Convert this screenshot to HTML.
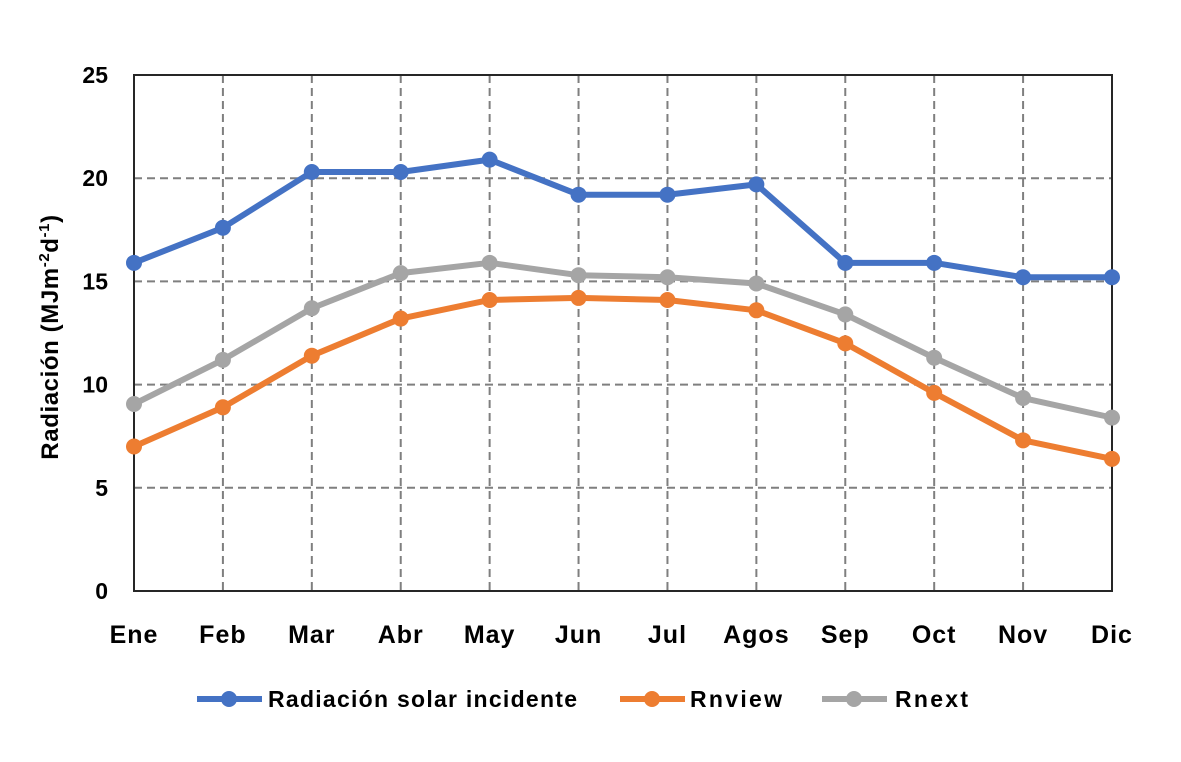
<!DOCTYPE html>
<html><head><meta charset="utf-8"><style>
body{margin:0;background:#fff;}
svg text{font-family:"Liberation Sans",Arial,sans-serif;font-weight:bold;fill:#000;}
</style></head><body>
<svg id="chart" width="1181" height="757" xmlns="http://www.w3.org/2000/svg">
<g id="grid"></g>
<g id="axes"></g>
<g id="series"></g>
<text transform="translate(58,337) rotate(-90)" text-anchor="middle" font-size="24" letter-spacing="0.6">Radiación (MJm<tspan font-size="15" dy="-9">-2</tspan><tspan dy="9">d</tspan><tspan font-size="15" dy="-9">-1</tspan><tspan dy="9">)</tspan></text>
<g id="legend"></g>
</svg>
<script>
const categories=["Ene","Feb","Mar","Abr","May","Jun","Jul","Agos","Sep","Oct","Nov","Dic"];
const radiacion=[15.9,17.6,20.3,20.3,20.9,19.2,19.2,19.7,15.9,15.9,15.2,15.2];
const rnview=[7.0,8.9,11.4,13.2,14.1,14.2,14.1,13.6,12.0,9.6,7.3,6.4];
const rnext=[9.06,11.2,13.7,15.4,15.9,15.3,15.2,14.9,13.4,11.3,9.35,8.4];
const yTicks=[0,5,10,15,20,25];
const seriesNames=["Radiación solar incidente","Rnview","Rnext"];
const NS="http://www.w3.org/2000/svg";
const L=134,R=1112,T=75,B=591,YMAX=25;
const x=i=>L+i*(R-L)/(categories.length-1);
const y=v=>B-v*(B-T)/YMAX;
function mk(tag,attrs,parent){const e=document.createElementNS(NS,tag);for(const k in attrs)e.setAttribute(k,attrs[k]);parent.appendChild(e);return e;}
const grid=document.getElementById('grid'),axes=document.getElementById('axes'),ser=document.getElementById('series'),leg=document.getElementById('legend');
yTicks.forEach(t=>{
 if(t>0){const l=mk('line',{x1:L,x2:R,y1:y(t),y2:y(t),stroke:'#7f7f7f','stroke-width':2,'stroke-dasharray':'8,5'},grid);
 
 }
 const tx=mk('text',{x:L-26,y:y(t)+8,'text-anchor':'end','font-size':23},axes);tx.textContent=t;
 
 
});
categories.forEach((c,i)=>{
 if(i>0&&i<categories.length-1){const l=mk('line',{x1:x(i),x2:x(i),y1:T,y2:B,stroke:'#7f7f7f','stroke-width':2,'stroke-dasharray':'8,5'},grid);
 
 }
 const tx=mk('text',{x:x(i),y:643,'text-anchor':'middle','font-size':25,'letter-spacing':1},axes);tx.textContent=c;
 
 
});
const box=mk('rect',{x:L,y:T,width:R-L,height:B-T,fill:'none',stroke:'#262626','stroke-width':2},axes);


const data=[radiacion,rnview,rnext],colors=["#4472c4","#ed7d31","#a5a5a5"];
[2,1,0].forEach(s=>{
 const g=mk('g',{},ser);
 
 
 const p=mk('polyline',{points:data[s].map((v,i)=>x(i)+','+y(v)).join(' '),fill:'none',stroke:colors[s],'stroke-width':6,'stroke-linejoin':'round'},g);
 
 
 data[s].forEach((v,i)=>{const c=mk('circle',{cx:x(i),cy:y(v),r:8,fill:colors[s]},g);
 
 });
});
const lx=[197,620,822],tx=[268,690,895],tl=[309,92,73];
seriesNames.forEach((n,s)=>{
 const g=mk('g',{},leg);
 
 
 mk('line',{x1:lx[s],x2:lx[s]+65,y1:699,y2:699,stroke:colors[s],'stroke-width':6},g);
 mk('circle',{cx:lx[s]+32,cy:699,r:8,fill:colors[s]},g);
 const t=mk('text',{x:tx[s],y:707,'font-size':23,textLength:tl[s],lengthAdjust:'spacing'},g);t.textContent=n;
});
</script>
</body></html>
